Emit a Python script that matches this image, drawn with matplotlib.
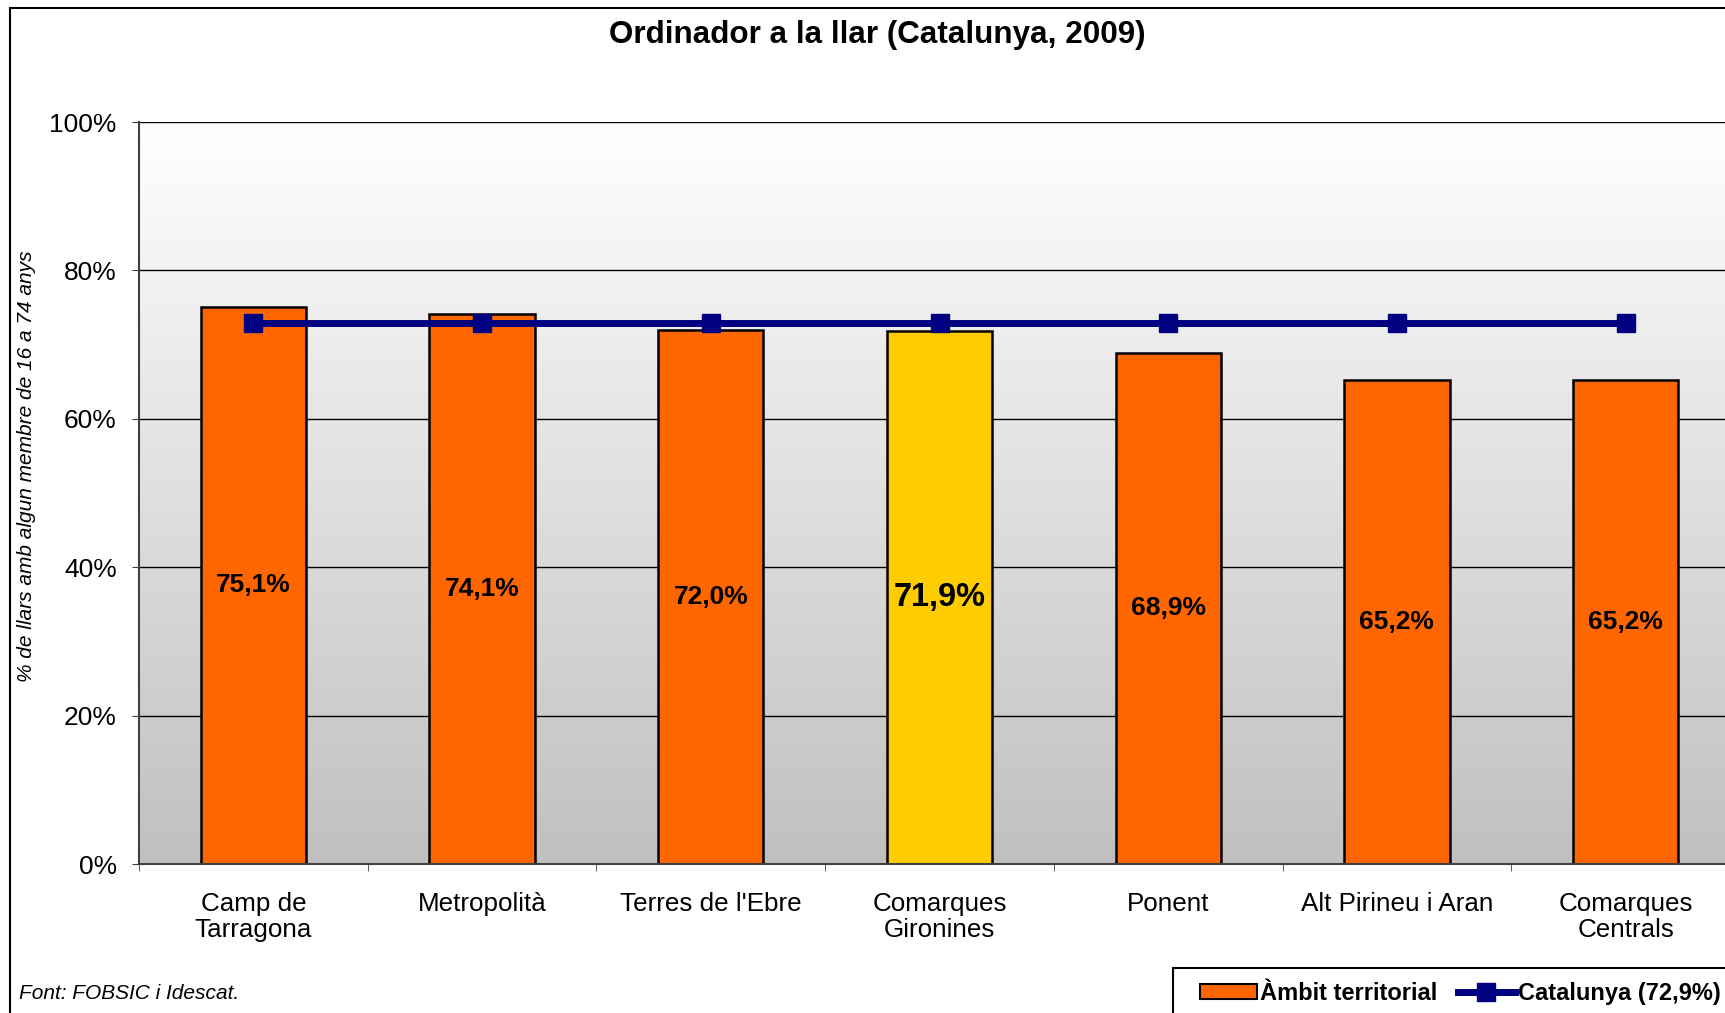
import numpy as np
import matplotlib
matplotlib.use("Agg")
import matplotlib.pyplot as plt
from matplotlib.patches import Rectangle, Patch
from matplotlib.lines import Line2D

# Data
categories = ["Camp de\nTarragona", "Metropolità", "Terres de l'Ebre", "Comarques\nGironines",
              "Ponent", "Alt Pirineu i Aran", "Comarques\nCentrals"]
values = [75.1, 74.1, 72.0, 71.9, 68.9, 65.2, 65.2]
labels = ["75,1%", "74,1%", "72,0%", "71,9%", "68,9%", "65,2%", "65,2%"]
highlight = "Comarques\nGironines"
catalunya = 72.9
yticks = [0, 20, 40, 60, 80, 100]

plt.rcParams['font.family'] = ['Liberation Sans', 'DejaVu Sans']

W, H = 1725, 1013
fig = plt.figure(figsize=(W / 100, H / 100), dpi=100)
fig.patch.set_facecolor('white')

# outer chart border (right side runs off the picture)
fig.patches.append(Rectangle((10 / W, -0.05), 1.2, 1 - 8 / H + 0.05, transform=fig.transFigure,
                             fill=False, edgecolor='black', linewidth=1.5))

ax = fig.add_axes([139 / W, 149 / H, 1601 / W, 742 / H])
x = np.arange(len(categories))
ax.set_xlim(-0.5, len(categories) - 0.5)
ax.set_ylim(0, 100)

# gradient background of the plot area
grad = np.linspace(1, 0, 256).reshape(-1, 1)
ax.imshow(grad, extent=(-0.5, len(categories) - 0.5, 0, 100), aspect='auto',
          cmap=matplotlib.colors.LinearSegmentedColormap.from_list('g', ['#c0c0c0', '#ffffff']),
          zorder=0, origin='upper')

for yv in yticks[1:]:
    ax.axhline(yv, color='black', linewidth=1.0, zorder=1)

colors = ['#FFCC00' if c == highlight else '#FF6600' for c in categories]
ax.bar(x, values, width=0.46, color=colors, edgecolor='black', linewidth=1.8, zorder=2)

for xi, v, lab, c in zip(x, values, labels, categories):
    fs = 23.5 if c == highlight else 19
    ax.text(xi, v / 2, lab, ha='center', va='center', fontsize=fs, fontweight='bold', zorder=4)

ax.plot(x, [catalunya] * len(x), color='#000080', linewidth=5, marker='s', markersize=12.5, zorder=3)

ax.set_yticks(yticks)
ax.set_yticklabels([f"{v}%" for v in yticks], fontsize=19)
ax.set_xticks(x)
ax.set_xticklabels(categories, fontsize=18.7, linespacing=1.12)
ax.set_xticks(np.arange(len(categories) + 1) - 0.5, minor=True)
ax.tick_params(axis='x', which='major', length=0, pad=20)
ax.tick_params(axis='x', which='minor', length=5, direction='out', color='#404040')
ax.tick_params(axis='y', length=5, direction='out', color='#404040', pad=11)
for s in ['top', 'right']:
    ax.spines[s].set_visible(False)
for s in ['left', 'bottom']:
    ax.spines[s].set_color('#404040')
    ax.spines[s].set_linewidth(1.5)

fig.text(877 / W, 1 - 35 / H, "Ordinador a la llar (Catalunya, 2009)", ha='center', va='center',
         fontsize=22.6, fontweight='bold')
fig.text(27 / W, 1 - 466 / H, "% de llars amb algun membre de 16 a 74 anys", rotation=90,
         ha='center', va='center', fontsize=15, style='italic')
fig.text(19 / W, 1 - 993 / H, "Font: FOBSIC i Idescat.", ha='left', va='center',
         fontsize=15, style='italic')

# legend box runs off the right and bottom edges like the reference
fig.patches.append(Rectangle((1173 / W, -0.05), 0.5, 0.05 + 1 - 968 / H, transform=fig.transFigure,
                             fill=False, edgecolor='black', linewidth=1.5))
handles = [Patch(facecolor='#FF6600', edgecolor='black', linewidth=1.5),
           Line2D([], [], color='#000080', linewidth=5, marker='s', markersize=12.5)]
leg = fig.legend(handles, ["Àmbit territorial", "Catalunya (72,9%)"], ncol=2,
                 loc='center left', bbox_to_anchor=(1200 / W, 1 - 993 / H),
                 prop={'size': 17, 'weight': 'bold'}, frameon=False,
                 handlelength=2.4, handleheight=0.6, handletextpad=0.12, columnspacing=0.9,
                 borderpad=0, borderaxespad=0)

plt.savefig("out.png", dpi=100, facecolor='white')
